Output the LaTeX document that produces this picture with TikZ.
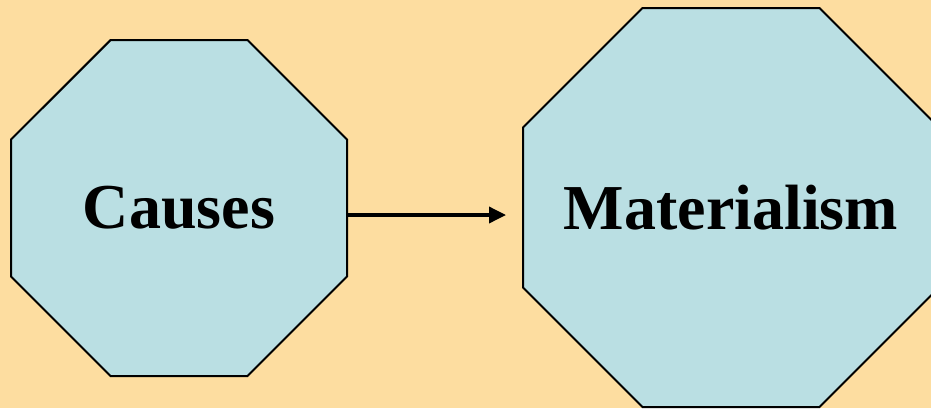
\documentclass[tikz,border=0pt]{standalone}
\usepackage{fontspec}
\setmainfont{Liberation Serif}
\usepackage{tikz}
\usetikzlibrary{shapes.misc,arrows.meta,positioning}
\usepackage{xcolor}
\definecolor{cBg}{RGB}{253,221,160}
\definecolor{cOct}{RGB}{186,223,227}
\tikzset{
  octnode/.style={chamfered rectangle,draw=black,line width=2pt,
                  fill=cOct,inner sep=0pt,align=center,
                  font=\fontsize{64}{70}\selectfont\bfseries},
  arr/.style={-{Triangle[length=17pt,width=16pt]},line width=3.5pt,color=black}
}
\begin{document}
\begin{tikzpicture}[x=1pt,y=-1pt]
  \useasboundingbox (0,0) rectangle (931,408);
  \clip (0,0) rectangle (931,408);
  \fill[cBg] (0,0) rectangle (931,408);
  \node[octnode,minimum width=336pt,minimum height=336pt,
        chamfered rectangle xsep=78pt,chamfered rectangle ysep=78pt]
        (causes) at (179,208) {Causes};
  \node[octnode,minimum width=416pt,minimum height=399pt,
        chamfered rectangle xsep=97pt,chamfered rectangle ysep=97pt]
        (materialism) at (731,207.5) {Materialism};
  \draw[arr,shorten >=16pt] (causes.east |- 0,215) -- (materialism.west |- 0,215);
\end{tikzpicture}
\end{document}
